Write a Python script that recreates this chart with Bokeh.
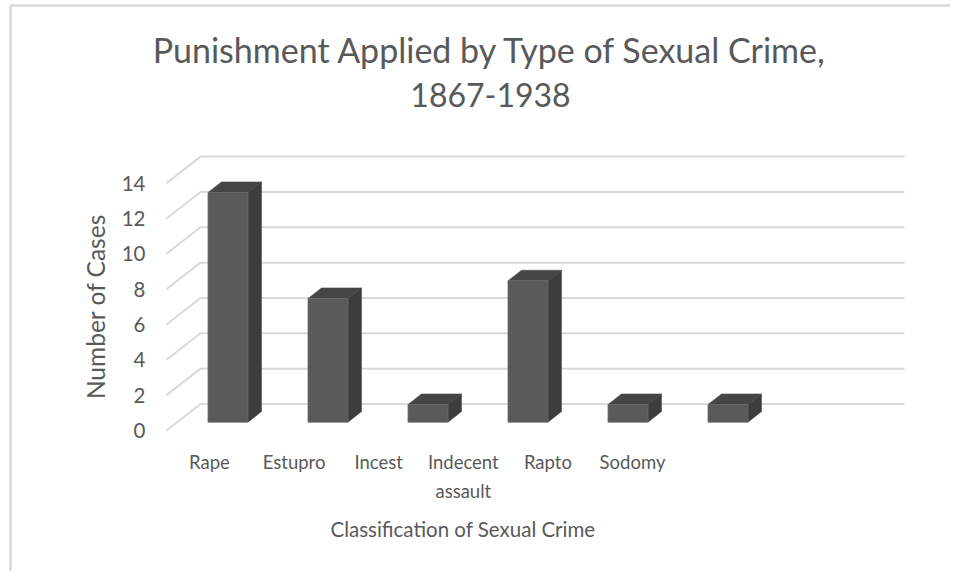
import textwrap
import numpy as np
from bokeh.plotting import figure
from bokeh.models import Range1d
from bokeh.core.properties import value
from bokeh.embed import file_html
from bokeh.resources import INLINE

# ---- data ----
categories = ["Rape", "Estupro", "Incest", "Indecent assault", "Rapto", "Sodomy"]
cases = [13, 7, 1, 8, 1, 1]
y_ticks = [0, 2, 4, 6, 8, 10, 12, 14]
title_lines = ["Punishment Applied by Type of Sexual Crime,", "1867-1938"]
x_title = "Classification of Sexual Crime"
y_title = "Number of Cases"

# ---- layout / style constants ----
W, H = 950, 571
PX_X = 100.0    # pixels per category step
PX_Y = 17.67    # pixels per case
XMIN = -2.275
YMAX = 24.335
FONT = value("Lato")
TXT = "#595959"
GRID = "#d9d9d9"

WALL_FRONT_X = -0.615
WALL_RIGHT_X = 6.765
DEPTH_DX = 0.34
DEPTH_DY = 1.5

BAR_HALF = 0.20
BAR_LIFT = 0.47
BAR_DX = 0.135
BAR_DY = 0.60

TICK_X = -0.825
LABEL_X0 = -0.185
LABEL_STEP = 0.846
LABEL_Y1 = -1.81
LABEL_Y2 = -3.40

p = figure(width=W, height=H,
           x_range=Range1d(XMIN, XMIN + W / PX_X),
           y_range=Range1d(YMAX - H / PX_Y, YMAX),
           x_axis_location=None, y_axis_location=None,
           output_backend="svg", toolbar_location=None,
           min_border=0, min_border_left=0, min_border_right=0,
           min_border_top=0, min_border_bottom=0)
p.grid.visible = False
p.outline_line_color = None
p.background_fill_color = "white"
p.border_fill_color = "white"

# chart border (top and left edges visible)
BORDER_X = XMIN + 10 / PX_X
BORDER_Y = YMAX - 5 / PX_Y
p.segment(x0=[BORDER_X, BORDER_X], y0=[BORDER_Y, BORDER_Y],
          x1=[XMIN + W / PX_X, BORDER_X], y1=[BORDER_Y, YMAX - H / PX_Y],
          line_color=GRID, line_width=2.5)

# gridlines: back wall + side wall diagonals
gx, gy = [], []
for t in y_ticks:
    gx.append([WALL_FRONT_X, WALL_FRONT_X + DEPTH_DX, WALL_RIGHT_X])
    gy.append([t, t + DEPTH_DY, t + DEPTH_DY])
p.multi_line(xs=gx, ys=gy, line_color=GRID, line_width=2)

# 3D bars
xc = np.arange(len(categories), dtype=float)
vals = np.array(cases, dtype=float)
bot = np.full_like(vals, BAR_LIFT)
top = BAR_LIFT + vals

side_xs = [[x + BAR_HALF, x + BAR_HALF + BAR_DX, x + BAR_HALF + BAR_DX, x + BAR_HALF] for x in xc]
side_ys = [[b, b + BAR_DY, t + BAR_DY, t] for b, t in zip(bot, top)]
top_xs = [[x - BAR_HALF, x + BAR_HALF, x + BAR_HALF + BAR_DX, x - BAR_HALF + BAR_DX] for x in xc]
top_ys = [[t, t, t + BAR_DY, t + BAR_DY] for t in top]

p.patches(xs=side_xs, ys=side_ys, fill_color="#3d3d3d", line_color="#3d3d3d", line_width=0.5)
p.patches(xs=top_xs, ys=top_ys, fill_color="#454545", line_color="#454545", line_width=0.5)
p.quad(left=xc - BAR_HALF, right=xc + BAR_HALF, bottom=bot, top=top,
       fill_color="#5a5a5a", line_color="#6a6a6a", line_width=0.8)

# y tick labels
p.text(x=[TICK_X] * len(y_ticks), y=y_ticks, text=[str(t) for t in y_ticks],
       text_align="right", text_baseline="middle", text_font=FONT,
       text_font_size="20.5px", text_color=TXT)

# category labels (wrapped)
lx1, ly1, lt1, lx2, ly2, lt2 = [], [], [], [], [], []
for i, c in enumerate(categories):
    lines = textwrap.wrap(c, 10)
    x = LABEL_X0 + LABEL_STEP * i
    lx1.append(x); ly1.append(LABEL_Y1); lt1.append(lines[0])
    for ln in lines[1:]:
        lx2.append(x); ly2.append(LABEL_Y2); lt2.append(ln)
p.text(x=lx1, y=ly1, text=lt1, text_align="center", text_baseline="middle",
       text_font=FONT, text_font_size="18.5px", text_color=TXT)
p.text(x=lx2, y=ly2, text=lt2, text_align="center", text_baseline="middle",
       text_font=FONT, text_font_size="18.5px", text_color=TXT)

# axis titles
p.text(x=[2.35], y=[-5.55], text=[x_title], text_align="center", text_baseline="middle",
       text_font=FONT, text_font_size="20.5px", text_color=TXT)
p.text(x=[-1.325], y=[7.02], text=[y_title], text_align="center", text_baseline="middle",
       angle=np.pi / 2, text_font=FONT, text_font_size="24.5px", text_color=TXT)

# chart title
p.text(x=[2.625], y=[21.55], text=title_lines[:1], text_align="center",
       text_baseline="middle", text_font=FONT, text_font_size="34px", text_color=TXT)
p.text(x=[2.625], y=[19.0], text=title_lines[1:], text_align="center",
       text_baseline="middle", text_font=FONT, text_font_size="32px", text_color=TXT)

open("out.html", "w").write(file_html(p, INLINE))
